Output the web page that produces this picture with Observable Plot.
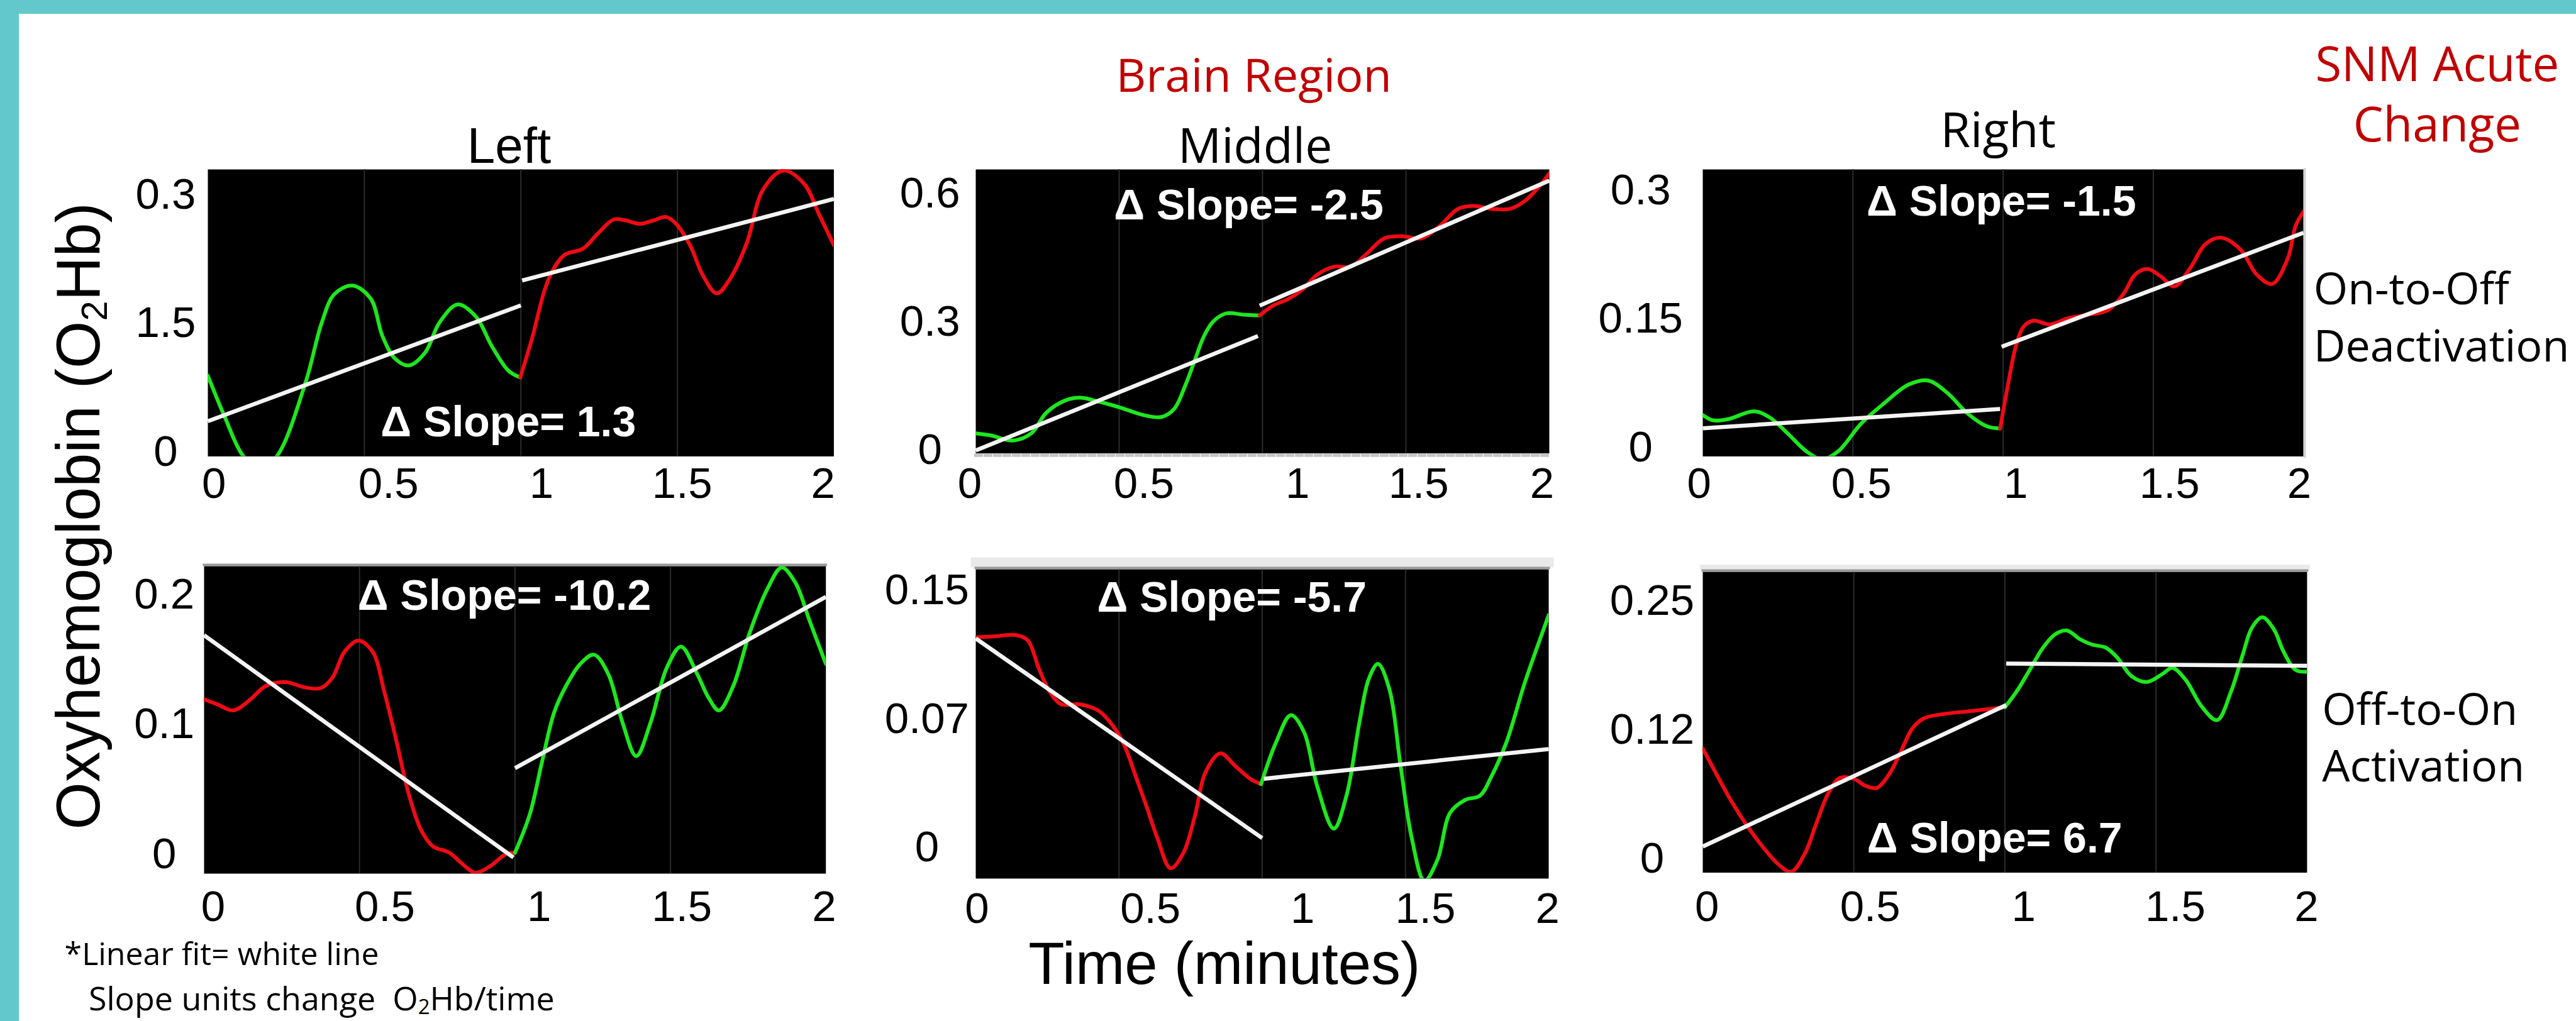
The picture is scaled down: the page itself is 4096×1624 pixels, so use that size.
<!DOCTYPE html>
<html><head><meta charset="utf-8">
<script src="https://cdn.jsdelivr.net/npm/d3@7"></script>
<script src="https://cdn.jsdelivr.net/npm/@observablehq/plot@0.6"></script>
<style>
html,body{margin:0;padding:0;background:#fff;}
#page{position:relative;width:4096px;height:1624px;overflow:hidden;background:#fff;}
.teal{position:absolute;background:#62C8CC;}
</style></head><body>
<div id="page"></div>
<script>
// ---------------- DATA ----------------
const columnTitles = ["Left", "Middle", "Right"];
const groupTitle = "Brain Region";
const sideTitle = ["SNM Acute", "Change"];
const rowLabelsTop = ["On-to-Off", "Deactivation"];
const rowLabelsBottom = ["Off-to-On", "Activation"];
const slopeLabels = ["Δ Slope= 1.3", "Δ Slope= -2.5", "Δ Slope= -1.5", "Δ Slope= -10.2", "Δ Slope= -5.7", "Δ Slope= 6.7"];
const xTicks = [0, 0.5, 1, 1.5, 2];
const xTickLabels = ["0", "0.5", "1", "1.5", "2"];
const gridXs = [0.5, 1, 1.5];

const yTicksTL = [0, 0.15, 0.3],  yTickLabelsTL = ["0", "1.5", "0.3"];
const yTicksTM = [0, 0.3, 0.6],   yTickLabelsTM = ["0", "0.3", "0.6"];
const yTicksTR = [0, 0.15, 0.3],  yTickLabelsTR = ["0", "0.15", "0.3"];
const yTicksBL = [0, 0.1, 0.2],   yTickLabelsBL = ["0", "0.1", "0.2"];
const yTicksBM = [0, 0.075, 0.15], yTickLabelsBM = ["0", "0.07", "0.15"];
const yTicksBR = [0, 0.125, 0.25], yTickLabelsBR = ["0", "0.12", "0.25"];

const yDomainTL = [-0.005, 0.3294];
const yDomainTM = [-0.007, 0.656];
const yDomainTR = [-0.0107, 0.3248];
const yDomainBL = [-0.0151, 0.222];
const yDomainBM = [-0.018, 0.1623];
const yDomainBR = [-0.0134, 0.278];

// Top-left (On-to-Off, Left): green = on, red = off
const tlGreen = [[0,.089],[.054,.041],[.112,-.004],[.167,-.02],[.222,-.004],[.312,.081],[.364,.151],[.404,.184],[.462,.194],[.52,.179],[.558,.135],[.598,.109],[.642,.101],[.694,.116],[.74,.151],[.798,.172],[.856,.158],[.908,.123],[.96,.095],[.998,.087]];
const tlRed = [[.998,.087],[1.036,.133],[1.076,.189],[1.102,.212],[1.14,.230],[1.198,.237],[1.244,.254],[1.296,.271],[1.334,.270],[1.38,.266],[1.424,.270],[1.464,.274],[1.496,.266],[1.542,.240],[1.58,.207],[1.626,.185],[1.67,.203],[1.722,.244],[1.774,.306],[1.838,.328],[1.904,.313],[1.954,.276],[2.0,.241]];
const tlFit = [[0,.036,1.0,.171],[1.004,.200,2.0,.295]];

// Top-middle
const tmGreen = [[0,.040],[.052,.035],[.13,.023],[.194,.040],[.246,.088],[.31,.116],[.362,.123],[.428,.114],[.504,.100],[.582,.083],[.648,.078],[.692,.097],[.732,.154],[.764,.211],[.796,.267],[.828,.301],[.874,.320],[.932,.317],[.99,.315]];
const tmRed = [[.99,.315],[1.036,.338],[1.088,.353],[1.14,.376],[1.19,.410],[1.25,.429],[1.308,.429],[1.36,.457],[1.424,.495],[1.488,.500],[1.554,.495],[1.618,.524],[1.682,.564],[1.734,.571],[1.8,.564],[1.864,.564],[1.916,.583],[1.968,.619],[2.0,.647]];
const tmFit = [[0,0.0,.984,.267],[.99,.338,2.0,.630]];

// Top-right
const trGreen = [[0,.0376],[.034,.0315],[.086,.033],[.17,.042],[.222,.035],[.282,.0164],[.346,-.005],[.398,-.014],[.45,-.005],[.528,.028],[.606,.052],[.684,.073],[.75,.078],[.816,.063],[.88,.040],[.946,.0245],[.99,.022]];
const trRed = [[.99,.022],[1.016,.0725],[1.042,.1175],[1.068,.141],[1.102,.148],[1.154,.1436],[1.218,.151],[1.284,.155],[1.348,.160],[1.40,.179],[1.44,.202],[1.48,.2084],[1.524,.200],[1.57,.188],[1.622,.209],[1.674,.2376],[1.726,.245],[1.792,.2305],[1.844,.202],[1.896,.191],[1.948,.221],[1.974,.259],[2.0,.2755]];
const trFit = [[0,.0222,.99,.0447],[.995,.1175,2.0,.2507]];

// Bottom-left (Off-to-On): red = off, green = on
const blRed = [[0,.1193],[.043,.1154],[.094,.1108],[.146,.1186],[.198,.1295],[.264,.1326],[.322,.1286],[.374,.1279],[.412,.1357],[.452,.1561],[.496,.1646],[.542,.1561],[.58,.1248],[.62,.0857],[.658,.0465],[.698,.0185],[.736,.006],[.788,.0012],[.826,-.0066],[.872,-.0144],[.918,-.0097],[.97,-.0002],[1.0,.001]];
const blGreen = [[1.0,.001],[1.048,.0309],[1.086,.07],[1.126,.1092],[1.164,.1295],[1.21,.1466],[1.254,.1537],[1.30,.1388],[1.346,.1013],[1.39,.0755],[1.436,.1013],[1.488,.1435],[1.534,.160],[1.586,.1388],[1.624,.120],[1.656,.1108],[1.702,.1295],[1.754,.170],[1.812,.2045],[1.858,.2209],[1.902,.2092],[1.948,.1796],[2.0,.1466]];
const blFit = [[0,.1687,.995,-.0026],[1.0,.0662,2.0,.1983]];

// Bottom-middle
const bmRed = [[0,.1226],[.064,.1232],[.142,.1239],[.182,.1208],[.22,.1046],[.258,.091],[.298,.0836],[.362,.0836],[.428,.0799],[.478,.0712],[.518,.060],[.556,.0427],[.596,.0241],[.634,.0056],[.68,-.012],[.724,-.0033],[.764,.0178],[.802,.044],[.854,.055],[.906,.0476],[.958,.0402],[.996,.0371]];
const bmGreen = [[.996,.0371],[1.048,.0613],[1.10,.0773],[1.146,.0674],[1.191,.0364],[1.25,.0111],[1.294,.0303],[1.34,.0737],[1.372,.0984],[1.404,.1071],[1.444,.0923],[1.482,.0489],[1.522,.0056],[1.566,-.0193],[1.612,-.0069],[1.656,.0204],[1.708,.0278],[1.76,.0303],[1.80,.0415],[1.852,.0613],[1.916,.0959],[1.968,.1208],[2.0,.1356]];
const bmFit = [[0,.122,1.0,.0056],[1.006,.0402,2.0,.0575]];

// Bottom-right
const brRed = [[0,.1069],[.046,.0816],[.098,.0542],[.15,.0306],[.2,.0111],[.248,-.0047],[.292,-.0126],[.338,.0052],[.376,.0344],[.416,.0638],[.454,.0784],[.50,.0775],[.538,.0708],[.576,.0687],[.616,.0816],[.654,.1029],[.694,.1265],[.732,.1361],[.796,.1402],[.888,.1431],[1.0,.1468]];
const brGreen = [[1.0,.1468],[1.042,.1635],[1.082,.183],[1.126,.2045],[1.166,.2174],[1.204,.2212],[1.25,.2124],[1.288,.2075],[1.334,.2045],[1.372,.1949],[1.418,.1772],[1.47,.1713],[1.522,.1792],[1.554,.185],[1.598,.1734],[1.65,.148],[1.702,.1343],[1.748,.1617],[1.786,.1967],[1.818,.2241],[1.852,.234],[1.89,.2224],[1.922,.2007],[1.962,.183],[2.0,.1812]];
const brFit = [[0,.0119,1.004,.1489],[1.004,.1891,2.0,.187]];

// ---------------- STYLE / LAYOUT ----------------
const S = 0.959;
const GREEN = "#1ee61e", RED = "#f00a14", WHITE = "#f4f4f4";
const TICK_FONT = "'Liberation Sans', Arial, sans-serif";
const TEXT_FONT = "'Open Sans', 'Noto Sans', sans-serif";

// layout in reference pixels; xOff = per-tick horizontal nudges of the x tick labels as placed in the reference
const panels = [
  {left:344, top:281, right:1382, bottom:757, yLab:70, xPad:18, xOff:[10,40,34,8,-18], tu:.48, tv:.93, row:0,
   yTicks:yTicksTL, yLabels:yTickLabelsTL, yDomain:yDomainTL, series:[[tlGreen,GREEN],[tlRed,RED]], fit:tlFit, slope:slopeLabels[0]},
  {left:1617, top:281, right:2568, bottom:752, yLab:76, xPad:23, xOff:[-10,41,58,21,-12], tu:.476, tv:.175, row:0, dashBottom:true,
   yTicks:yTicksTM, yLabels:yTickLabelsTM, yDomain:yDomainTM, series:[[tmGreen,GREEN],[tmRed,RED]], fit:tmFit, slope:slopeLabels[1]},
  {left:2823, top:281, right:3819, bottom:757, yLab:103, xPad:18, xOff:[-6,14,21,27,-7], tu:.497, tv:.161, row:0, rightEdge:true,
   yTicks:yTicksTR, yLabels:yTickLabelsTR, yDomain:yDomainTR, series:[[trGreen,GREEN],[trRed,RED]], fit:trFit, slope:slopeLabels[2]},
  {left:338, top:938, right:1369, bottom:1448, yLab:66, xPad:28, xOff:[15,42,40,19,-3], tu:.483, tv:.143, row:1,
   yTicks:yTicksBL, yLabels:yTickLabelsBL, yDomain:yDomainBL, series:[[blRed,RED],[blGreen,GREEN]], fit:blFit, slope:slopeLabels[3]},
  {left:1617, top:944, right:2567, bottom:1457, yLab:81, xPad:22, xOff:[2,52,67,33,-2], tu:.447, tv:.137, row:1, band:[16,-11],
   yTicks:yTicksBM, yLabels:yTickLabelsBM, yDomain:yDomainBM, series:[[bmRed,RED],[bmGreen,GREEN]], fit:bmFit, slope:slopeLabels[4]},
  {left:2823, top:948, right:3825, bottom:1447, yLab:84, xPad:29, xOff:[7,27,31,32,-1], tu:.483, tv:.933, row:1, band:[9,-7],
   yTicks:yTicksBR, yLabels:yTickLabelsBR, yDomain:yDomainBR, series:[[brRed,RED],[brGreen,GREEN]], fit:brFit, slope:slopeLabels[5]}
];

const page = document.getElementById("page");

// teal border (top and left)
const tTop = document.createElement("div"); tTop.className = "teal";
Object.assign(tTop.style, {left:"0px", top:"0px", width:"4096px", height: Math.round(23*S)+"px"});
const tLeft = document.createElement("div"); tLeft.className = "teal";
Object.assign(tLeft.style, {left:"0px", top:"0px", width: Math.round(31*S)+"px", height:"1624px"});
page.appendChild(tTop); page.appendChild(tLeft);

const xfmt = new Map(xTicks.map((d, i) => [d, xTickLabels[i]]));

for (const p of panels) {
  const L = p.left*S, T = p.top*S, W = (p.right-p.left)*S, H = (p.bottom-p.top)*S;
  const mL = 190, mR = 24, mT = 40, mB = 110;
  const yfmt = new Map(p.yTicks.map((d, i) => [d, p.yLabels[i]]));
  const marks = [
    Plot.frame({fill: "black", stroke: "none"}),
    Plot.gridX(gridXs, {stroke: "#2c2c2c", strokeOpacity: 1, strokeWidth: 2})
  ];
  if (p.row === 1) {
    if (p.band) marks.push(Plot.frame({anchor: "top", stroke: "#e9e9e9", strokeWidth: p.band[0], dy: p.band[1]}));
    marks.push(Plot.frame({anchor: "top", stroke: "#9a9a9a", strokeWidth: 4, dy: -2}));
  }
  if (p.dashBottom) marks.push(Plot.frame({anchor: "bottom", stroke: "#c4c4c4", strokeWidth: 5, strokeDasharray: "9,6", dy: 3}));
  if (p.rightEdge) marks.push(Plot.frame({anchor: "right", stroke: "#d4d4d4", strokeWidth: 4, dx: 2}));
  for (const [data, color] of p.series) {
    marks.push(Plot.line(data, {stroke: color, strokeWidth: 6, curve: "catmull-rom", clip: true}));
  }
  marks.push(Plot.link(p.fit, {x1: d => d[0], y1: d => d[1], x2: d => d[2], y2: d => d[3], stroke: WHITE, strokeWidth: 6.5}));
  marks.push(Plot.text([p.slope], {text: d => d, frameAnchor: "top-left", textAnchor: "middle", lineAnchor: "bottom",
    dx: p.tu*W, dy: p.tv*H, fill: "white", fontWeight: "bold", fontSize: 68, fontFamily: TICK_FONT}));
  xTicks.forEach((t, i) => {
    marks.push(Plot.axisX({ticks: [t], tickFormat: d => xfmt.get(d), tickSize: 0, tickPadding: p.xPad*S, dx: p.xOff[i]*S, label: null, fill: "black"}));
  });
  marks.push(Plot.axisY({ticks: p.yTicks, tickFormat: d => yfmt.get(d), tickSize: 0, tickPadding: 0, textAnchor: "middle", dx: -p.yLab*S, label: null, fill: "black"}));

  const chart = Plot.plot({
    width: W + mL + mR, height: H + mT + mB,
    marginLeft: mL, marginRight: mR, marginTop: mT, marginBottom: mB,
    x: {domain: [0, 2]}, y: {domain: p.yDomain},
    style: {background: "transparent", fontFamily: TICK_FONT, fontSize: "69px", color: "black", overflow: "visible", maxWidth: "none"},
    marks
  });
  Object.assign(chart.style, {position: "absolute", left: (L - mL) + "px", top: (T - mT) + "px"});
  page.appendChild(chart);
}

// ---------------- TEXT OVERLAY ----------------
const svg = d3.create("svg").attr("width", 4096).attr("height", 1624)
  .style("position", "absolute").style("left", "0px").style("top", "0px").style("overflow", "visible");
function label(str, x, y, {size, font = TEXT_FONT, fill = "black", anchor = "middle", weight = "normal"}) {
  return svg.append("text").attr("x", x*S).attr("y", y*S).attr("font-size", size).attr("font-family", font)
    .attr("fill", fill).attr("text-anchor", anchor).attr("font-weight", weight).style("white-space", "pre").text(str);
}
const DARKRED = "#c00000";
label(groupTitle, 2079, 152, {size: 74, fill: DARKRED, weight: 500});
label(columnTitles[0], 844, 270, {size: 80, font: TICK_FONT});
label(columnTitles[1], 2081, 270, {size: 77});
label(columnTitles[2], 3313, 244, {size: 77});
label(sideTitle[0], 4041, 135, {size: 76, fill: DARKRED, weight: 500});
label(sideTitle[1], 4041, 235, {size: 76, fill: DARKRED, weight: 500});
label(rowLabelsTop[0], 3836, 505, {size: 70, anchor: "start"});
label(rowLabelsTop[1], 3836, 600, {size: 70, anchor: "start"});
label(rowLabelsBottom[0], 3850, 1202, {size: 70, anchor: "start"});
label(rowLabelsBottom[1], 3850, 1296, {size: 70, anchor: "start"});
label("Time (minutes)", 2030, 1632, {size: 94, font: TICK_FONT});
svg.append("text").attr("x", 107*S).attr("y", 1535).attr("font-size", 50).attr("font-family", TEXT_FONT)
  .attr("fill", "black").text("*Linear fit= white line");

// y axis title with subscript
const yt = svg.append("text").attr("transform", `translate(${165*S},${856*S}) rotate(-90)`)
  .attr("font-size", 98).attr("font-family", TICK_FONT).attr("text-anchor", "middle").attr("fill", "black")
  .attr("textLength", 1040*S).attr("lengthAdjust", "spacingAndGlyphs");
yt.append("tspan").text("Oxyhemoglobin (O");
yt.append("tspan").attr("font-size", 58).attr("dy", 12).text("2");
yt.append("tspan").attr("dy", -12).text("Hb)");

// footnote with subscript
const fn = svg.append("text").attr("x", 147*S).attr("y", 1607).attr("font-size", 52)
  .attr("font-family", TEXT_FONT).attr("fill", "black").style("white-space", "pre");
fn.append("tspan").text("Slope units change  O");
fn.append("tspan").attr("font-size", 33).attr("dy", 6).text("2");
fn.append("tspan").attr("dy", -6).text("Hb/time");

page.appendChild(svg.node());
</script>
</body></html>
